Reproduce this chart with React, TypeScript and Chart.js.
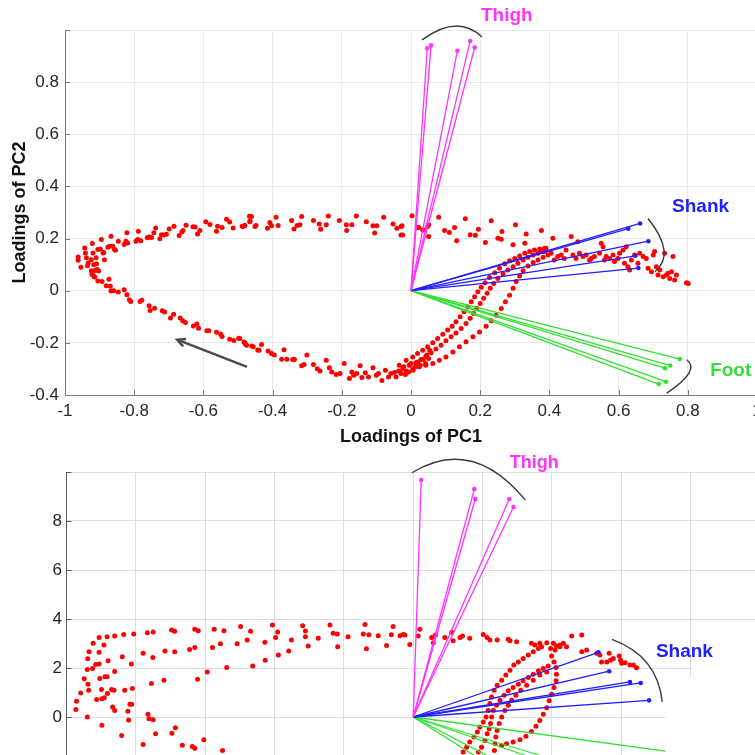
import React, { useEffect, useRef } from "react";
import { Chart, registerables } from "chart.js";
Chart.register(...registerables);

type P = [number, number];

const FONT = "'Liberation Sans', Arial, Helvetica, sans-serif";
const RED = "#ff0000";
const MAGENTA = "#ff33ff";
const BLUE = "#1f1fff";
const GREEN = "#33e033";

// ---------- TOP PANEL: PC scores ----------
const topUpperBand: P[] = [
  [-0.962,0.129],[-0.962,0.117],[-0.954,0.09],[-0.943,0.164],[-0.941,0.145],[-0.938,0.126],[-0.933,0.106],[-0.935,0.096],
  [-0.924,0.119],[-0.921,0.181],[-0.919,0.145],[-0.917,0.1],[-0.924,0.077],[-0.922,0.062],[-0.916,0.055],[-0.914,0.078],
  [-0.91,0.126],[-0.909,0.103],[-0.907,0.081],[-0.905,0.158],[-0.903,0.076],[-0.898,0.16],[-0.895,0.196],[-0.89,0.145],
  [-0.888,0.147],[-0.886,0.119],[-0.876,0.167],[-0.871,0.171],[-0.867,0.209],[-0.862,0.171],[-0.857,0.158],[-0.854,0.155],
  [-0.846,0.19],[-0.829,0.177],[-0.824,0.19],[-0.821,0.222],[-0.819,0.183],[-0.795,0.19],[-0.79,0.196],[-0.788,0.228],
  [-0.781,0.192],[-0.762,0.203],[-0.757,0.206],[-0.75,0.204],[-0.743,0.222],[-0.738,0.241],[-0.726,0.199],[-0.721,0.215],
  [-0.714,0.214],[-0.707,0.217],[-0.699,0.237],[-0.685,0.247],[-0.67,0.212],[-0.662,0.226],[-0.659,0.231],[-0.65,0.251],
  [-0.63,0.245],[-0.624,0.244],[-0.617,0.218],[-0.61,0.231],[-0.593,0.265],[-0.581,0.254],[-0.562,0.228],[-0.559,0.247],
  [-0.546,0.242],[-0.533,0.274],[-0.524,0.264],[-0.514,0.241],[-0.488,0.247],[-0.481,0.25],[-0.467,0.286],[-0.465,0.267],
  [-0.448,0.25],[-0.485,0.246],[-0.48,0.25],[-0.466,0.265],[-0.461,0.285],[-0.451,0.246],[-0.415,0.24],[-0.408,0.262],
  [-0.403,0.249],[-0.39,0.282],[-0.384,0.25],[-0.345,0.269],[-0.338,0.237],[-0.329,0.25],[-0.321,0.253],[-0.316,0.285],
  [-0.282,0.269],[-0.265,0.256],[-0.261,0.236],[-0.245,0.253],[-0.239,0.287],[-0.207,0.269],[-0.187,0.253],[-0.186,0.231],
  [-0.171,0.253],[-0.158,0.287],[-0.129,0.265],[-0.11,0.249],[-0.105,0.221],[-0.099,0.249],[-0.079,0.282],[-0.052,0.256],
  [-0.041,0.24],[-0.026,0.249],[-0.024,0.214],[0.003,0.288],[0.022,0.242],[0.037,0.233],[0.051,0.253],
  [-0.029,0.246],[-0.029,0.214],[0.019,0.242],[0.034,0.233],[0.048,0.246],[0.051,0.208],[0.08,0.282],[0.097,0.231],
  [0.111,0.223],[0.126,0.242],[0.132,0.192],[0.157,0.276],[0.171,0.215],[0.186,0.213],[0.195,0.236],[0.215,0.185],
  [0.232,0.268],[0.251,0.201],[0.261,0.197],[0.263,0.227],[0.295,0.176],[0.302,0.253],[0.329,0.182],[0.333,0.218],[0.377,0.231],
];
const topLowerBand: P[] = [
  [-0.914,0.053],[-0.905,0.037],[-0.893,0.035],[-0.881,0.019],[-0.873,0.044],[-0.869,0.017],[-0.867,-0.001],[-0.859,0.0],
  [-0.846,-0.005],[-0.829,0.004],[-0.821,-0.015],[-0.814,-0.035],[-0.81,-0.041],[-0.783,-0.041],[-0.778,-0.037],[-0.757,-0.058],
  [-0.754,-0.076],[-0.741,-0.067],[-0.719,-0.077],[-0.712,-0.082],[-0.695,-0.105],[-0.686,-0.09],[-0.667,-0.105],[-0.66,-0.115],
  [-0.652,-0.122],[-0.629,-0.135],[-0.619,-0.128],[-0.614,-0.144],[-0.59,-0.154],[-0.584,-0.154],[-0.562,-0.159],[-0.55,-0.167],
  [-0.546,-0.176],[-0.524,-0.186],[-0.512,-0.191],[-0.498,-0.182],[-0.483,-0.197],[-0.479,-0.204],[-0.46,-0.212],[-0.443,-0.227],
  [-0.495,-0.183],[-0.48,-0.2],[-0.475,-0.209],[-0.456,-0.215],[-0.439,-0.228],[-0.432,-0.206],[-0.413,-0.231],[-0.403,-0.241],
  [-0.395,-0.247],[-0.374,-0.263],[-0.367,-0.226],[-0.359,-0.263],[-0.342,-0.264],[-0.337,-0.264],[-0.316,-0.288],[-0.309,-0.283],
  [-0.301,-0.247],[-0.282,-0.283],[-0.271,-0.299],[-0.263,-0.308],[-0.245,-0.267],[-0.236,-0.295],[-0.229,-0.312],[-0.216,-0.321],
  [-0.205,-0.318],[-0.193,-0.279],[-0.178,-0.337],[-0.171,-0.312],[-0.166,-0.324],[-0.157,-0.318],[-0.147,-0.288],[-0.142,-0.333],
  [-0.132,-0.315],[-0.123,-0.331],[-0.11,-0.295],[-0.1,-0.324],[-0.094,-0.318],[-0.084,-0.344],[-0.074,-0.305],[-0.065,-0.331],
  [-0.058,-0.318],[-0.048,-0.314],[-0.043,-0.331],[-0.036,-0.308],[-0.029,-0.318],[-0.021,-0.292],[-0.016,-0.321],[-0.007,-0.312],
  [0.0,-0.279],[0.006,-0.305],[0.013,-0.292],[0.02,-0.273],[0.027,-0.286],[0.035,-0.264],[0.042,-0.279],[0.046,-0.247],
  [0.051,-0.26],[0.054,-0.228],
];
const topStrandA: P[] = [
  [-0.034,-0.286],[-0.014,-0.267],[0.005,-0.254],[0.019,-0.241],[0.034,-0.228],[0.048,-0.215],[0.063,-0.2],[0.077,-0.183],
  [0.092,-0.167],[0.106,-0.151],[0.119,-0.136],[0.13,-0.119],[0.142,-0.1],[0.153,-0.081],[0.164,-0.062],[0.174,-0.042],
  [0.184,-0.023],[0.193,-0.004],[0.203,0.013],[0.214,0.031],[0.227,0.051],[0.242,0.069],[0.256,0.086],[0.271,0.103],
  [0.285,0.115],[0.3,0.124],[0.314,0.133],[0.329,0.144],[0.343,0.15],[0.357,0.156],[0.372,0.16],[0.386,0.163],
];
const topStrandB: P[] = [
  [-0.024,-0.299],[-0.005,-0.286],[0.014,-0.276],[0.029,-0.264],[0.043,-0.251],[0.058,-0.238],[0.072,-0.224],[0.087,-0.209],
  [0.101,-0.192],[0.116,-0.177],[0.13,-0.162],[0.145,-0.145],[0.159,-0.126],[0.171,-0.106],[0.181,-0.087],[0.19,-0.068],
  [0.2,-0.049],[0.21,-0.029],[0.22,-0.01],[0.229,0.009],[0.239,0.028],[0.251,0.047],[0.266,0.064],[0.28,0.079],
  [0.295,0.092],[0.309,0.105],[0.324,0.118],[0.338,0.128],[0.353,0.137],[0.367,0.144],[0.382,0.15],
];
const topStrandC: P[] = [
  [-0.014,-0.308],[0.005,-0.299],[0.024,-0.292],[0.043,-0.286],[0.063,-0.279],[0.082,-0.267],[0.101,-0.254],[0.121,-0.235],
  [0.14,-0.215],[0.159,-0.196],[0.179,-0.177],[0.198,-0.158],[0.217,-0.136],[0.232,-0.115],[0.246,-0.094],[0.261,-0.068],
  [0.273,-0.042],[0.285,-0.017],[0.295,0.009],[0.304,0.035],[0.314,0.056],[0.324,0.077],[0.338,0.095],[0.353,0.108],
  [0.367,0.118],[0.382,0.128],[0.396,0.137],
];
const topRightCluster: P[] = [
  [0.376,0.156],[0.386,0.15],[0.39,0.163],[0.405,0.144],[0.41,0.201],[0.414,0.118],[0.424,0.131],[0.434,0.137],
  [0.443,0.124],[0.448,0.156],[0.463,0.208],[0.468,0.137],[0.477,0.124],[0.482,0.188],[0.487,0.144],[0.497,0.131],
  [0.506,0.137],[0.516,0.118],[0.521,0.124],[0.53,0.131],[0.545,0.144],[0.55,0.182],[0.555,0.169],[0.559,0.118],
  [0.564,0.131],[0.574,0.124],[0.584,0.137],[0.588,0.112],[0.598,0.124],[0.603,0.144],[0.613,0.156],[0.617,0.105],
  [0.622,0.169],[0.627,0.092],[0.632,0.079],[0.637,0.118],[0.646,0.137],[0.656,0.105],[0.661,0.144],[0.671,0.131],
  [0.68,0.124],[0.685,0.086],[0.695,0.073],[0.7,0.137],[0.704,0.15],[0.709,0.092],[0.714,0.06],[0.719,0.079],
  [0.729,0.054],[0.733,0.144],[0.738,0.06],[0.743,0.067],[0.748,0.047],[0.753,0.073],[0.757,0.131],[0.762,0.041],
  [0.767,0.06],[0.796,0.031],[0.801,0.028],
];
// top panel loading vectors (end points, from origin)
const topThigh: P[] = [[0.047,0.93],[0.058,0.941],[0.134,0.92],[0.171,0.958],[0.184,0.933]];
const topShank: P[] = [[0.628,0.238],[0.662,0.258],[0.686,0.19],[0.649,0.134],[0.657,0.087]];
const topFoot: P[] = [[0.777,-0.262],[0.749,-0.287],[0.734,-0.297],[0.737,-0.349],[0.716,-0.358]];
const topArcs: P[][] = [
  [[0.032,0.962],[0.127,1.015],[0.205,0.973]],
  [[0.685,0.277],[0.731,0.158],[0.705,0.073]],
  [[0.797,-0.265],[0.803,-0.317],[0.739,-0.393]],
];
const topArrow: P[] = [[-0.474,-0.292],[-0.676,-0.188]];

// ---------- BOTTOM PANEL ----------
const botUpperBand: P[] = [
  [-0.906,0.324],[-0.883,0.328],[-0.861,0.331],[-0.835,0.337],[-0.806,0.339],[-0.767,0.344],[-0.75,0.347],[-0.697,0.355],
  [-0.688,0.35],[-0.63,0.358],[-0.62,0.352],[-0.574,0.358],[-0.546,0.352],[-0.498,0.369],[-0.469,0.35],[-0.406,0.376],
  [-0.391,0.347],[-0.397,0.325],[-0.351,0.314],[-0.319,0.372],[-0.311,0.351],[-0.311,0.328],[-0.303,0.29],[-0.274,0.321],
  [-0.24,0.376],[-0.231,0.342],[-0.219,0.339],[-0.218,0.287],[-0.188,0.328],[-0.144,0.339],[-0.139,0.378],[-0.135,0.279],
  [-0.128,0.336],[-0.101,0.332],[-0.063,0.336],[-0.058,0.369],[-0.038,0.332],[-0.024,0.335],[-0.01,0.296],[0.014,0.331],
  [-0.077,0.292],[-0.029,0.337],[0.019,0.358],[0.053,0.325],[0.058,0.303],[0.064,0.335],[0.091,0.325],[0.111,0.346],
  [0.115,0.311],[0.135,0.325],[0.142,0.331],[0.163,0.321],[0.202,0.337],[0.213,0.325],[0.221,0.314],[0.242,0.314],
  [0.274,0.317],[0.279,0.311],[0.298,0.307],[0.341,0.301],[0.351,0.294],[0.365,0.301],[0.37,0.287],[0.385,0.303],
  [0.396,0.28],[0.404,0.301],[0.413,0.29],[0.423,0.294],[0.433,0.301],[0.442,0.287],[0.457,0.331],[0.486,0.335],
  [0.486,0.266],[0.5,0.273],[0.529,0.26],[0.543,0.225],[0.538,0.253],[0.565,0.26],[0.569,0.232],[0.594,0.249],
  [0.598,0.232],[0.601,0.219],[0.611,0.221],[0.625,0.212],[0.635,0.212],[0.644,0.201],[0.577,0.239],[0.558,0.225],
];
const botInnerBand: P[] = [
  [-0.923,0.301],[-0.935,0.266],[-0.939,0.238],[-0.94,0.194],[-0.925,0.198],[-0.916,0.214],[-0.906,0.216],[-0.906,0.264],
  [-0.892,0.294],[-0.88,0.23],[-0.861,0.186],[-0.839,0.246],[-0.813,0.216],[-0.779,0.26],[-0.751,0.243],[-0.716,0.269],
  [-0.688,0.266],[-0.645,0.276],[-0.63,0.284],[-0.579,0.284],[-0.556,0.299],[-0.508,0.299],[-0.479,0.314],[-0.428,0.305],
  [-0.389,0.253],[-0.359,0.269],[-0.427,0.232],[-0.463,0.208],[-0.538,0.202],[-0.594,0.184],
];
const botLeftCluster: P[] = [
  [-0.971,0.064],[-0.973,0.031],[-0.959,0.098],[-0.949,0.156],[-0.938,0.134],[-0.936,0.109],[-0.94,0.0],[-0.913,0.071],
  [-0.904,0.157],[-0.899,0.112],[-0.898,0.075],[-0.891,0.079],[-0.889,0.164],[-0.883,0.164],[-0.882,0.096],[-0.87,0.112],
  [-0.863,0.109],[-0.867,0.041],[-0.861,0.027],[-0.841,-0.075],[-0.832,0.109],[-0.823,0.023],[-0.821,-0.012],[-0.817,0.052],
  [-0.81,0.116],[-0.812,0.052],[-0.898,-0.034],[-0.755,0.137],[-0.719,0.15],[-0.622,0.154],[-0.765,0.011],[-0.762,-0.007],
  [-0.75,-0.011],[-0.743,-0.068],[-0.696,-0.066],[-0.686,-0.044],[-0.779,-0.112],[-0.666,-0.115],[-0.637,-0.12],[-0.63,-0.128],
  [-0.604,-0.093],[-0.55,-0.137],
];
const botStrand1: P[] = [
  [0.144,-0.143],[0.154,-0.123],[0.163,-0.102],[0.175,-0.082],[0.185,-0.061],[0.192,-0.041],[0.202,-0.02],[0.21,0.0],
  [0.216,0.027],[0.221,0.055],[0.226,0.082],[0.233,0.109],[0.242,0.13],[0.255,0.15],[0.267,0.171],[0.279,0.191],
  [0.29,0.212],[0.303,0.225],[0.317,0.239],[0.332,0.253],[0.346,0.266],[0.361,0.28],
];
const botStrand2: P[] = [
  [0.188,-0.143],[0.197,-0.123],[0.207,-0.096],[0.213,-0.068],[0.219,-0.048],[0.223,-0.027],[0.226,0.0],[0.231,0.027],
  [0.24,0.048],[0.25,0.068],[0.262,0.089],[0.274,0.107],[0.288,0.12],[0.303,0.134],[0.317,0.148],[0.332,0.161],
  [0.346,0.175],[0.361,0.189],[0.375,0.198],[0.389,0.208],
];
const botStrand3: P[] = [
  [0.255,-0.116],[0.269,-0.109],[0.288,-0.102],[0.308,-0.093],[0.325,-0.079],[0.341,-0.059],[0.354,-0.038],[0.365,-0.014],
  [0.375,0.011],[0.385,0.038],[0.392,0.066],[0.399,0.093],[0.406,0.12],[0.412,0.148],[0.413,0.175],[0.412,0.202],
  [0.406,0.225],[0.399,0.249],[0.409,0.273],[0.423,0.287],
];
const botStrand4: P[] = [
  [0.385,0.184],[0.365,0.171],[0.346,0.15],[0.327,0.13],[0.31,0.109],[0.296,0.089],[0.284,0.068],[0.274,0.048],
  [0.264,0.027],[0.255,0.0],[0.248,-0.027],[0.242,-0.055],[0.238,-0.082],[0.236,-0.109],[0.234,-0.137],
];
const botThigh: P[] = [[0.023,0.967],[0.176,0.93],[0.179,0.89],[0.277,0.89],[0.289,0.857]];
const botShank: P[] = [[0.534,0.264],[0.565,0.187],[0.625,0.143],[0.656,0.139],[0.68,0.068]];
const botFoot: P[] = [[0.85,-0.163],[0.7,-0.3],[0.66,-0.32],[0.5,-0.37],[0.45,-0.4]];
const botArcs: P[][] = [
  [[-0.004,0.997],[0.165,1.045],[0.323,0.886]],
  [[0.573,0.317],[0.675,0.219],[0.718,0.062]],
];

// axis ticks
const xRange: P = [-1, 1];
const topYRange: P = [-0.4, 1];
const botYRange: P = [-0.4, 1];
const tickStep = 0.2;

type Label = { text: string; color: string; at: P; size: number };
const topLabels: Label[] = [
  { text: "Thigh", color: MAGENTA, at: [0.277, 1.054], size: 19 },
  { text: "Shank", color: BLUE, at: [0.837, 0.323], size: 19 },
  { text: "Foot", color: GREEN, at: [0.924, -0.306], size: 19 },
];
const botLabels: Label[] = [
  { text: "Thigh", color: MAGENTA, at: [0.349, 1.037], size: 18 },
  { text: "Shank", color: BLUE, at: [0.782, 0.267], size: 19 },
];

const toPts = (a: P[]) => a.map(([x, y]) => ({ x, y }));

const decorPlugin = {
  id: "decor",
  beforeDatasetsDraw(chart: any, _a: any, opts: any) {
    const { ctx, chartArea, scales } = chart;
    const x = scales.x, y = scales.y;
    ctx.save();
    ctx.fillStyle = "#ffffff";
    (opts.gridCovers || []).forEach((b: P) => {
      const x0 = x.getPixelForValue(b[0]) + 1;
      const y0 = y.getPixelForValue(b[1]);
      ctx.fillRect(x0, y0, chartArea.right + 60 - x0, chartArea.bottom - y0);
    });
    ctx.restore();
  },
  afterDatasetsDraw(chart: any, _a: any, opts: any) {
    const { ctx, chartArea, scales } = chart;
    const x = scales.x, y = scales.y;
    const px = (p: P) => [x.getPixelForValue(p[0]), y.getPixelForValue(p[1])];
    ctx.save();
    ctx.fillStyle = "#ffffff";
    (opts.dataCovers || []).forEach((b: P) => {
      const x0 = x.getPixelForValue(b[0]);
      const y0 = y.getPixelForValue(b[1]);
      ctx.fillRect(x0, y0, chartArea.right + 60 - x0, chartArea.bottom + 80 - y0);
    });
    // inward tick marks
    ctx.strokeStyle = opts.axisColor;
    ctx.lineWidth = 1;
    y.ticks.forEach((t: any) => {
      const yy = Math.round(y.getPixelForValue(t.value)) + 0.5;
      ctx.beginPath(); ctx.moveTo(chartArea.left, yy); ctx.lineTo(chartArea.left + 5, yy); ctx.stroke();
    });
    x.ticks.forEach((t: any) => {
      const xx = Math.round(x.getPixelForValue(t.value)) + 0.5;
      ctx.beginPath(); ctx.moveTo(xx, chartArea.bottom); ctx.lineTo(xx, chartArea.bottom - 5); ctx.stroke();
    });
    // arcs
    ctx.strokeStyle = "#3a3a3a";
    ctx.lineWidth = 1.4;
    (opts.arcs || []).forEach((a: P[]) => {
      const [s, m, e] = a.map(px);
      const cx = 2 * m[0] - (s[0] + e[0]) / 2;
      const cy = 2 * m[1] - (s[1] + e[1]) / 2;
      ctx.beginPath(); ctx.moveTo(s[0], s[1]); ctx.quadraticCurveTo(cx, cy, e[0], e[1]); ctx.stroke();
    });
    // arrow
    if (opts.arrow) {
      const [a, b] = opts.arrow.map(px);
      ctx.strokeStyle = "#4a4a4a";
      ctx.lineWidth = 2.4;
      ctx.beginPath(); ctx.moveTo(a[0], a[1]); ctx.lineTo(b[0], b[1]); ctx.stroke();
      const ang = Math.atan2(b[1] - a[1], b[0] - a[0]);
      const L = 9;
      ctx.beginPath();
      ctx.moveTo(b[0] - L * Math.cos(ang - 0.45), b[1] - L * Math.sin(ang - 0.45));
      ctx.lineTo(b[0], b[1]);
      ctx.lineTo(b[0] - L * Math.cos(ang + 0.45), b[1] - L * Math.sin(ang + 0.45));
      ctx.stroke();
    }
    // labels
    ctx.textAlign = "center";
    ctx.textBaseline = "middle";
    (opts.labels || []).forEach((l: Label) => {
      const p = px(l.at);
      ctx.font = `bold ${l.size}px ${FONT}`;
      ctx.fillStyle = l.color;
      ctx.fillText(l.text, p[0], p[1]);
    });
    ctx.restore();
  },
};

const vecSets = (ends: P[], color: string) =>
  ends.map((e) => ({
    type: "scatter" as const,
    data: toPts([[0, 0], e]),
    showLine: true,
    borderColor: color,
    backgroundColor: color,
    borderWidth: 1.3,
    pointRadius: [0, 2.3],
    pointBorderWidth: 0,
    order: 1,
  }));

type Spec = {
  scores: P[];
  thigh: P[]; shank: P[]; foot: P[];
  yRange: P;
  yFmt: (v: number) => string;
  padding: any;
  yWidth: number; xHeight: number;
  yTickPad: number; xTickPad: number;
  gridColor: string; axisColor: string;
  yTitle: boolean; titlePadY: number; titlePadX: number;
  decor: any;
};

const fmt1 = (v: number) => (Math.abs(v - 1) < 1e-6 ? "" : String(Number(v.toFixed(1))));

function makeConfig(s: Spec): any {
  return {
    type: "scatter",
    data: {
      datasets: [
        ...vecSets(s.thigh, MAGENTA),
        ...vecSets(s.shank, BLUE),
        ...vecSets(s.foot, GREEN),
        {
          type: "scatter",
          data: toPts(s.scores),
          pointRadius: 2.5,
          pointBorderWidth: 0,
          backgroundColor: RED,
          borderColor: RED,
          order: 2,
        },
      ],
    },
    options: {
      responsive: false,
      maintainAspectRatio: false,
      animation: false,
      layout: { padding: s.padding },
      plugins: { legend: { display: false }, tooltip: { enabled: false }, decor: s.decor },
      scales: {
        x: {
          type: "linear",
          min: xRange[0], max: xRange[1],
          ticks: { stepSize: tickStep, color: "#262626", font: { size: 17, family: FONT }, padding: s.xTickPad, maxRotation: 0, autoSkip: false, callback: (v: number) => String(Number(Number(v).toFixed(1))) },
          grid: { color: s.gridColor, drawTicks: false },
          border: { color: s.axisColor, width: 1 },
          title: { display: true, text: "Loadings of PC1", color: "#111", font: { size: 18, weight: "bold", family: FONT }, padding: { top: 0, bottom: s.titlePadX } },
          afterFit: (sc: any) => { sc.height = s.xHeight; },
        },
        y: {
          type: "linear",
          min: s.yRange[0], max: s.yRange[1],
          ticks: { stepSize: tickStep, color: "#262626", font: { size: 17, family: FONT }, padding: s.yTickPad, callback: (v: number) => s.yFmt(Number(v)) },
          grid: { color: s.gridColor, drawTicks: false },
          border: { color: s.axisColor, width: 1 },
          title: { display: s.yTitle, text: "Loadings of PC2", color: "#111", font: { size: 18, weight: "bold", family: FONT }, padding: { top: s.titlePadY, bottom: 0 } },
          afterFit: (sc: any) => { sc.width = s.yWidth; },
        },
      },
    },
    plugins: [decorPlugin],
  };
}

const topSpec: Spec = {
  scores: [...topUpperBand, ...topLowerBand, ...topStrandA, ...topStrandB, ...topStrandC, ...topRightCluster],
  thigh: topThigh, shank: topShank, foot: topFoot,
  yRange: topYRange,
  yFmt: fmt1,
  padding: { top: 30, right: 33, left: 0, bottom: 0 },
  yWidth: 65, xHeight: 55,
  yTickPad: 6, xTickPad: 6,
  gridColor: "#e9e9e9", axisColor: "#7a7a7a",
  yTitle: true, titlePadY: 9, titlePadX: 2,
  decor: { arcs: topArcs, arrow: topArrow, labels: topLabels, axisColor: "#7a7a7a" },
};

const botSpec: Spec = {
  scores: [...botUpperBand, ...botInnerBand, ...botLeftCluster, ...botStrand1, ...botStrand2, ...botStrand3, ...botStrand4],
  thigh: botThigh, shank: botShank, foot: botFoot,
  yRange: botYRange,
  yFmt: (v) => (Math.abs(v - 1) < 1e-6 ? "" : String(Math.round(Math.abs(v) * 10))),
  padding: { top: 22, right: 30, left: 0, bottom: 0 },
  yWidth: 66.5, xHeight: 50,
  yTickPad: 4.5, xTickPad: 6,
  gridColor: "#dedede", axisColor: "#5a5a5a",
  yTitle: false, titlePadY: 0, titlePadX: 2,
  decor: { arcs: botArcs, labels: botLabels, axisColor: "#5a5a5a", gridCovers: [[0.8, 0.3]], dataCovers: [[0.727, 0.163]] },
};

function Panel({ spec, top, width, height }: { spec: Spec; top: number; width: number; height: number }) {
  const ref = useRef<HTMLCanvasElement>(null);
  useEffect(() => {
    Chart.defaults.font.family = FONT;
    const chart = new Chart(ref.current as HTMLCanvasElement, makeConfig(spec));
    return () => chart.destroy();
  }, [spec]);
  return (
    <canvas
      ref={ref}
      width={width}
      height={height}
      style={{ position: "absolute", left: 0, top, width, height, display: "block" }}
    />
  );
}

export default function App() {
  return (
    <div style={{ position: "fixed", left: 0, top: 0, width: 755, height: 755, overflow: "hidden", background: "#ffffff" }}>
      <Panel spec={topSpec} top={0} width={790} height={450} />
      <Panel spec={botSpec} top={450} width={790} height={415} />
    </div>
  );
}
